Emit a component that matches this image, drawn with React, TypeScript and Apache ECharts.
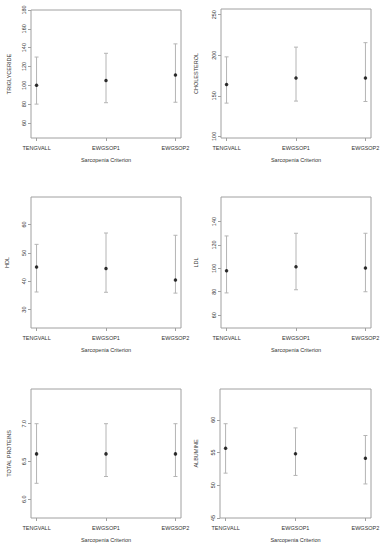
import React, { useEffect, useRef } from "react";
import * as echarts from "echarts";

const categories = ["TENGVALL", "EWGSOP1", "EWGSOP2"];
const categoryPositions = [1, 2, 3];

const trigMean = [100, 105, 111];
const trigLow = [80, 81.5, 82];
const trigHigh = [130, 134, 144];
const trigTicks = [60, 80, 100, 120, 140, 160, 180];

const cholMean = [164, 172, 172];
const cholLow = [141, 143.5, 143];
const cholHigh = [198, 210, 215.5];
const cholTicks = [100, 150, 200, 250];

const hdlMean = [45, 44.5, 40.4];
const hdlLow = [36.2, 36.1, 35.8];
const hdlHigh = [53, 57, 56.2];
const hdlTicks = [30, 40, 50, 60];

const ldlMean = [98, 101.4, 100.3];
const ldlLow = [79, 81.7, 80];
const ldlHigh = [127.7, 130, 130];
const ldlTicks = [60, 80, 100, 120, 140];

const tpMean = [6.6, 6.6, 6.6];
const tpLow = [6.21, 6.3, 6.3];
const tpHigh = [7.0, 7.0, 7.0];
const tpTicks = [6.0, 6.5, 7.0];

const albMean = [55.66, 54.8, 54.13];
const albLow = [51.85, 51.5, 50.2];
const albHigh = [59.4, 58.76, 57.6];
const albTicks = [45, 50, 55, 60];

const xTitle = "Sarcopenia Criterion";

type Panel = {
  name: string;
  mean: number[];
  low: number[];
  high: number[];
  ticks: number[];
  min: number;
  max: number;
  decimals: number;
  grid: { left: number; top: number; width: number; height: number };
  nameGap: number;
};

const panels: Panel[] = [
  { name: "TRIGLYCERIDE", mean: trigMean, low: trigLow, high: trigHigh, ticks: trigTicks, min: 44, max: 180, decimals: 0,
    grid: { left: 31, top: 10, width: 150, height: 128 }, nameGap: 19 },
  { name: "CHOLESTEROL", mean: cholMean, low: cholLow, high: cholHigh, ticks: cholTicks, min: 98, max: 257, decimals: 0,
    grid: { left: 221, top: 9, width: 150, height: 129 }, nameGap: 22 },
  { name: "HDL", mean: hdlMean, low: hdlLow, high: hdlHigh, ticks: hdlTicks, min: 23.5, max: 69.7, decimals: 0,
    grid: { left: 31, top: 197, width: 150, height: 131 }, nameGap: 21 },
  { name: "LDL", mean: ldlMean, low: ldlLow, high: ldlHigh, ticks: ldlTicks, min: 49, max: 161, decimals: 0,
    grid: { left: 221, top: 197, width: 150, height: 131 }, nameGap: 22 },
  { name: "TOTAL PROTEINS", mean: tpMean, low: tpLow, high: tpHigh, ticks: tpTicks, min: 5.75, max: 7.46, decimals: 1,
    grid: { left: 31, top: 389, width: 150, height: 129 }, nameGap: 19 },
  { name: "ALBUMINE", mean: albMean, low: albLow, high: albHigh, ticks: albTicks, min: 45, max: 64.7, decimals: 0,
    grid: { left: 220, top: 389, width: 151, height: 129 }, nameGap: 21 },
];

const FONT = "Liberation Sans, Arial, sans-serif";
const TEXT_COLOR = "#333";
const BOX_COLOR = "#a0a0a0";
const BAR_COLOR = "#b4b4b4";

export default function App() {
  const ref = useRef<HTMLDivElement>(null);
  useEffect(() => {
    if (!ref.current) return;
    const chart = echarts.init(ref.current, undefined, { renderer: "svg" });
    const grids: any[] = [];
    const xAxes: any[] = [];
    const yAxes: any[] = [];
    const series: any[] = [];
    panels.forEach((p, i) => {
      grids.push({ ...p.grid, show: true, borderColor: BOX_COLOR, borderWidth: 1, backgroundColor: "transparent" });
      xAxes.push({
        type: "value",
        gridIndex: i,
        min: 0.92,
        max: 3.08,
        name: xTitle,
        nameLocation: "middle",
        nameGap: 19,
        nameTextStyle: { fontFamily: FONT, fontSize: 5.5, color: TEXT_COLOR },
        axisLine: { show: false },
        splitLine: { show: false },
        axisTick: { show: true, length: 3, lineStyle: { color: BOX_COLOR }, customValues: categoryPositions },
        axisLabel: {
          show: true,
          margin: 7,
          fontFamily: FONT,
          fontSize: 5.5,
          color: TEXT_COLOR,
          customValues: categoryPositions,
          formatter: (v: number) => categories[Math.round(v) - 1] ?? "",
        },
      });
      yAxes.push({
        type: "value",
        gridIndex: i,
        min: p.min,
        max: p.max,
        name: p.name,
        nameLocation: "middle",
        nameGap: p.nameGap,
        nameTextStyle: { fontFamily: FONT, fontSize: 5.5, color: TEXT_COLOR },
        axisLine: { show: false },
        splitLine: { show: false },
        axisTick: { show: true, length: 3, lineStyle: { color: BOX_COLOR }, customValues: p.ticks },
        axisLabel: {
          show: true,
          rotate: 90,
          margin: 4,
          fontFamily: FONT,
          fontSize: 5.5,
          color: TEXT_COLOR,
          customValues: p.ticks,
          formatter: (v: number) => v.toFixed(p.decimals),
        },
      });
      series.push({
        type: "custom",
        xAxisIndex: i,
        yAxisIndex: i,
        data: categoryPositions.map((x, k) => [x, p.low[k], p.high[k]]),
        renderItem: (_params: any, api: any) => {
          const x = api.value(0);
          const lo = api.coord([x, api.value(1)]);
          const hi = api.coord([x, api.value(2)]);
          const style = { stroke: BAR_COLOR, lineWidth: 1 };
          const cap = 2;
          return {
            type: "group",
            children: [
              { type: "line", shape: { x1: lo[0], y1: lo[1], x2: hi[0], y2: hi[1] }, style },
              { type: "line", shape: { x1: hi[0] - cap, y1: hi[1], x2: hi[0] + cap, y2: hi[1] }, style },
              { type: "line", shape: { x1: lo[0] - cap, y1: lo[1], x2: lo[0] + cap, y2: lo[1] }, style },
            ],
          };
        },
        z: 2,
      });
      series.push({
        type: "scatter",
        xAxisIndex: i,
        yAxisIndex: i,
        symbol: "circle",
        symbolSize: 3.5,
        itemStyle: { color: "#000" },
        data: categoryPositions.map((x, k) => [x, p.mean[k]]),
        z: 3,
      });
    });
    chart.setOption({
      animation: false,
      backgroundColor: "#fff",
      grid: grids,
      xAxis: xAxes,
      yAxis: yAxes,
      series,
    });
    return () => chart.dispose();
  }, []);
  return (
    <div style={{ position: "fixed", left: 0, top: 0, width: 383, height: 550, background: "#fff" }}>
      <div ref={ref} style={{ width: 383, height: 550 }} />
    </div>
  );
}
